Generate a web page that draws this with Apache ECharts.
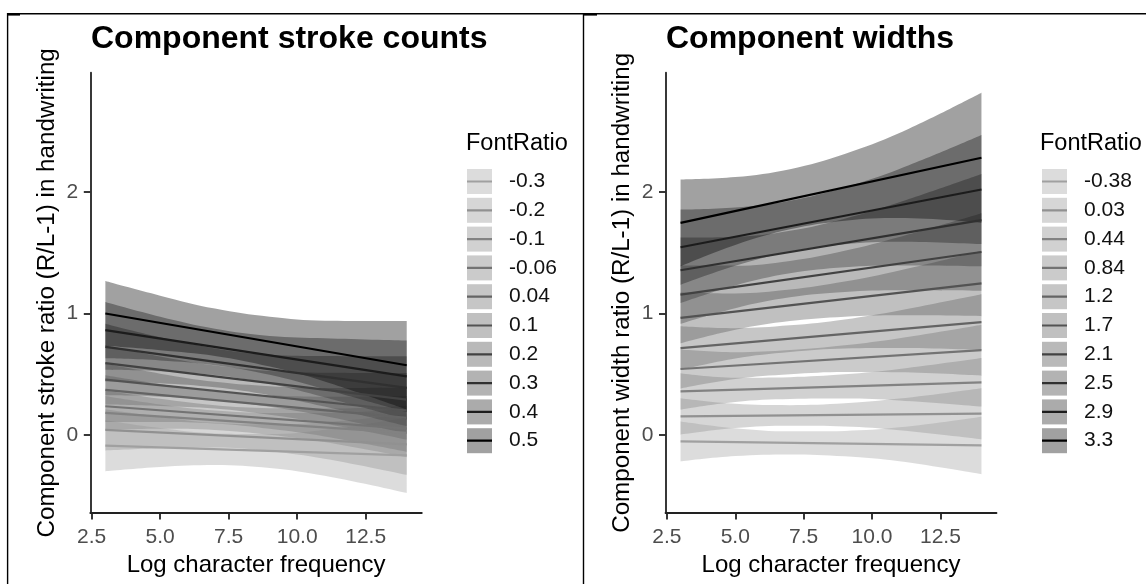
<!DOCTYPE html>
<html><head><meta charset="utf-8">
<script src="https://cdn.jsdelivr.net/npm/echarts@6/dist/echarts.min.js"></script>
<style>html,body{margin:0;padding:0;background:#fff}#c{width:1146px;height:584px}</style>
</head><body><div id="c"></div>
<script>
// ---------- data ----------
const xs = [3, 5, 7, 9, 11, 14];          // x positions of ribbon samples
const lineX = [3, 14];                    // fitted lines run from x=3 to x=14
const xTicks = [2.5, 5, 7.5, 10, 12.5];
const yTicks = [0, 1, 2];

const strokeLevels = ['-0.3','-0.2','-0.1','-0.06','0.04','0.1','0.2','0.3','0.4','0.5'];
const strokeLine = [[-0.09,-0.17],[0.04,-0.08],[0.18,0.015],[0.235,0.05],[0.37,0.14],[0.455,0.20],[0.59,0.29],[0.725,0.386],[0.862,0.482],[1.0,0.573]];
const strokeLower = [
  [-0.30,-0.265,-0.249,-0.274,-0.338,-0.48],
  [-0.13,-0.112,-0.104,-0.135,-0.197,-0.33],
  [0.04,0.05,0.04,0.00,-0.06,-0.185],
  [0.105,0.106,0.093,0.049,-0.014,-0.14],
  [0.25,0.238,0.216,0.165,0.093,-0.04],
  [0.325,0.314,0.287,0.231,0.155,0.01],
  [0.44,0.425,0.391,0.326,0.232,0.07],
  [0.535,0.523,0.492,0.42,0.309,0.126],
  [0.63,0.613,0.574,0.495,0.376,0.187],
  [0.733,0.697,0.65,0.562,0.44,0.209]
];
const strokeUpper = [
  [0.12,0.055,0.011,0.006,0.042,0.14],
  [0.21,0.148,0.096,0.085,0.103,0.17],
  [0.32,0.25,0.20,0.18,0.18,0.215],
  [0.365,0.296,0.243,0.219,0.216,0.24],
  [0.49,0.418,0.356,0.325,0.313,0.32],
  [0.585,0.504,0.437,0.401,0.385,0.39],
  [0.74,0.645,0.571,0.526,0.512,0.51],
  [0.915,0.803,0.712,0.66,0.649,0.646],
  [1.094,0.973,0.874,0.815,0.796,0.777],
  [1.267,1.147,1.04,0.972,0.94,0.937]
];

const widthLevels = ['-0.38','0.03','0.44','0.84','1.2','1.7','2.1','2.5','2.9','3.3'];
const widthLine = [[-0.055,-0.088],[0.151,0.174],[0.358,0.432],[0.542,0.697],[0.715,0.928],[0.963,1.248],[1.155,1.507],[1.356,1.769],[1.546,2.022],[1.747,2.284]];
const widthLower = [
  [-0.22,-0.176,-0.162,-0.178,-0.219,-0.325],
  [0.001,0.055,0.074,0.069,0.038,-0.036],
  [0.208,0.271,0.295,0.298,0.282,0.232],
  [0.382,0.46,0.498,0.517,0.515,0.487],
  [0.535,0.629,0.682,0.711,0.715,0.698],
  [0.753,0.865,0.937,0.973,0.985,0.978],
  [0.915,1.044,1.133,1.177,1.191,1.187],
  [1.086,1.231,1.331,1.381,1.396,1.389],
  [1.236,1.393,1.509,1.571,1.592,1.572],
  [1.389,1.565,1.694,1.765,1.787,1.748]
];
const widthUpper = [
  [0.11,0.054,0.028,0.032,0.061,0.149],
  [0.301,0.255,0.244,0.259,0.298,0.384],
  [0.508,0.471,0.475,0.498,0.542,0.632],
  [0.702,0.68,0.698,0.737,0.795,0.907],
  [0.895,0.879,0.902,0.951,1.025,1.158],
  [1.173,1.165,1.197,1.263,1.355,1.518],
  [1.395,1.394,1.433,1.517,1.631,1.827],
  [1.626,1.631,1.681,1.781,1.916,2.149],
  [1.856,1.873,1.929,2.041,2.192,2.472],
  [2.105,2.125,2.19,2.315,2.487,2.82]
];

// ---------- style ----------
const greys = [160,145,130,115,100,83,66,48,28,0];
const FONT = "'Liberation Sans', Arial, sans-serif";
const ALPHA = 0.37;
const lineCol = g => `rgb(${g},${g},${g})`;
const fillCol = g => `rgba(${g},${g},${g},${ALPHA})`;

function panelSeries(p, prefix, levels, line, lower, upper) {
  const out = [];
  levels.forEach((lv, i) => {
    const g = greys[i];
    // value first so that the stack is applied to the y dimension
    out.push({
      type: 'line', name: prefix + 'lo|' + lv, xAxisIndex: p, yAxisIndex: p,
      stack: prefix + i, stackStrategy: 'all', smooth: 0.4, symbol: 'none', silent: true,
      encode: { x: 1, y: 0 },
      lineStyle: { opacity: 0, width: 0 }, emphasis: { disabled: true },
      data: xs.map((x, k) => [lower[i][k], x])
    });
    out.push({
      type: 'line', name: prefix + '|' + lv, xAxisIndex: p, yAxisIndex: p,
      stack: prefix + i, stackStrategy: 'all', smooth: 0.4, symbol: 'none', silent: true,
      encode: { x: 1, y: 0 },
      lineStyle: { opacity: 0, width: 0 }, itemStyle: { color: fillCol(g) },
      areaStyle: { color: fillCol(g), opacity: 1 }, emphasis: { disabled: true },
      data: xs.map((x, k) => [upper[i][k] - lower[i][k], x])
    });
    out.push({
      type: 'line', name: prefix + 'L|' + lv, xAxisIndex: p, yAxisIndex: p,
      symbol: 'none', silent: true, emphasis: { disabled: true },
      lineStyle: { color: lineCol(g), width: 2.2 }, itemStyle: { color: lineCol(g) },
      data: lineX.map((x, k) => [x, line[i][k]])
    });
  });
  return out;
}

// key line icon: a centred bar, with two invisible specks keeping a 25x25 box
const KEY_LINE = 'path://M0,0H0.01V0.01H0Z M0,11.4H25V13.6H0Z M24.99,24.99H25V25H24.99Z';

function legendPair(prefix, levels, left) {
  const common = {
    orient: 'vertical', left: left, top: 169, padding: 0, itemWidth: 25, itemHeight: 25,
    itemGap: 3.8, selectedMode: false, symbolKeepAspect: true,
    formatter: n => n.split('|')[1]
  };
  return [
    Object.assign({}, common, {
      icon: 'rect',
      data: levels.map((lv, i) => ({ name: prefix + '|' + lv, itemStyle: { color: fillCol(greys[i]), opacity: 1, borderWidth: 0 } })),
      textStyle: { fontSize: 21, color: '#111', fontFamily: FONT, padding: [0, 0, 0, 12] }
    }),
    Object.assign({}, common, {
      icon: KEY_LINE, z: 5,
      data: levels.map((lv, i) => ({ name: prefix + 'L|' + lv, itemStyle: { color: lineCol(greys[i]), opacity: 1, borderWidth: 0 } })),
      textStyle: { fontSize: 21, color: 'rgba(0,0,0,0)', fontFamily: FONT, padding: [0, 0, 0, 12] }
    })
  ];
}

function xAxisCfg(p) {
  return {
    gridIndex: p, type: 'value', min: 2.45, max: 14.55,
    name: 'Log character frequency', nameLocation: 'middle', nameGap: 38.5,
    nameTextStyle: { fontSize: 24, color: '#000', fontFamily: FONT },
    axisLine: { show: true, onZero: false, lineStyle: { color: '#222', width: 1.8 } },
    axisTick: { show: true, length: 6.5, customValues: xTicks, lineStyle: { color: '#222', width: 1.8 } },
    axisLabel: { customValues: xTicks, formatter: v => v.toFixed(1), fontSize: 21, color: '#4d4d4d', fontFamily: FONT, margin: 14 },
    splitLine: { show: false }
  };
}
function yAxisCfg(p, name) {
  return {
    gridIndex: p, type: 'value', min: -0.645, max: 2.985,
    name: name, nameLocation: 'middle', nameGap: 31,
    nameTextStyle: { fontSize: 24.2, color: '#000', fontFamily: FONT },
    axisLine: { show: true, onZero: false, lineStyle: { color: '#222', width: 1.8 } },
    axisTick: { show: true, length: 6.5, customValues: yTicks, lineStyle: { color: '#222', width: 1.8 } },
    axisLabel: { customValues: yTicks, formatter: v => String(v), fontSize: 21, color: '#4d4d4d', fontFamily: FONT, margin: 12 },
    splitLine: { show: false }
  };
}

const titleStyle = { fontSize: 32, fontWeight: 'bold', color: '#000', fontFamily: FONT };
const legTitleStyle = { fontSize: 23.5, fontWeight: 'normal', color: '#000', fontFamily: FONT };

const option = {
  animation: false,
  backgroundColor: '#fff',
  title: [
    { text: 'Component stroke counts', left: 91, top: 23.6, padding: 0, textStyle: titleStyle },
    { text: 'Component widths', left: 666, top: 23.6, padding: 0, textStyle: titleStyle },
    { text: 'FontRatio', left: 466, top: 131.5, padding: 0, textStyle: legTitleStyle },
    { text: 'FontRatio', left: 1040, top: 131.5, padding: 0, textStyle: legTitleStyle }
  ],
  grid: [
    { left: 90.3, top: 72.7, width: 331.5, height: 440.3 },
    { left: 665.5, top: 72.7, width: 331, height: 440.3 }
  ],
  xAxis: [xAxisCfg(0), xAxisCfg(1)],
  yAxis: [yAxisCfg(0, 'Component stroke ratio (R/L-1) in handwriting'), yAxisCfg(1, 'Component width ratio (R/L-1) in handwriting')],
  legend: [].concat(legendPair('S', strokeLevels, 467), legendPair('W', widthLevels, 1042)),
  series: [].concat(
    panelSeries(0, 'S', strokeLevels, strokeLine, strokeLower, strokeUpper),
    panelSeries(1, 'W', widthLevels, widthLine, widthLower, widthUpper)
  ),
  graphic: [
    { type: 'line', shape: { x1: 7, y1: 13.7, x2: 1146, y2: 13.7 }, style: { stroke: '#000', lineWidth: 1.4 } },
    { type: 'line', shape: { x1: 7.6, y1: 13, x2: 7.6, y2: 584 }, style: { stroke: '#000', lineWidth: 1.4 } },
    { type: 'line', shape: { x1: 583.5, y1: 13, x2: 583.5, y2: 584 }, style: { stroke: '#000', lineWidth: 1.4 } },
    { type: 'rect', shape: { x: 7, y: 13, width: 13, height: 2.6 }, style: { fill: '#000' } },
    { type: 'rect', shape: { x: 583, y: 13, width: 14, height: 2.6 }, style: { fill: '#000' } }
  ]
};

const chart = echarts.init(document.getElementById('c'), null, { renderer: 'canvas' });
chart.setOption(option);
</script>
</body></html>
